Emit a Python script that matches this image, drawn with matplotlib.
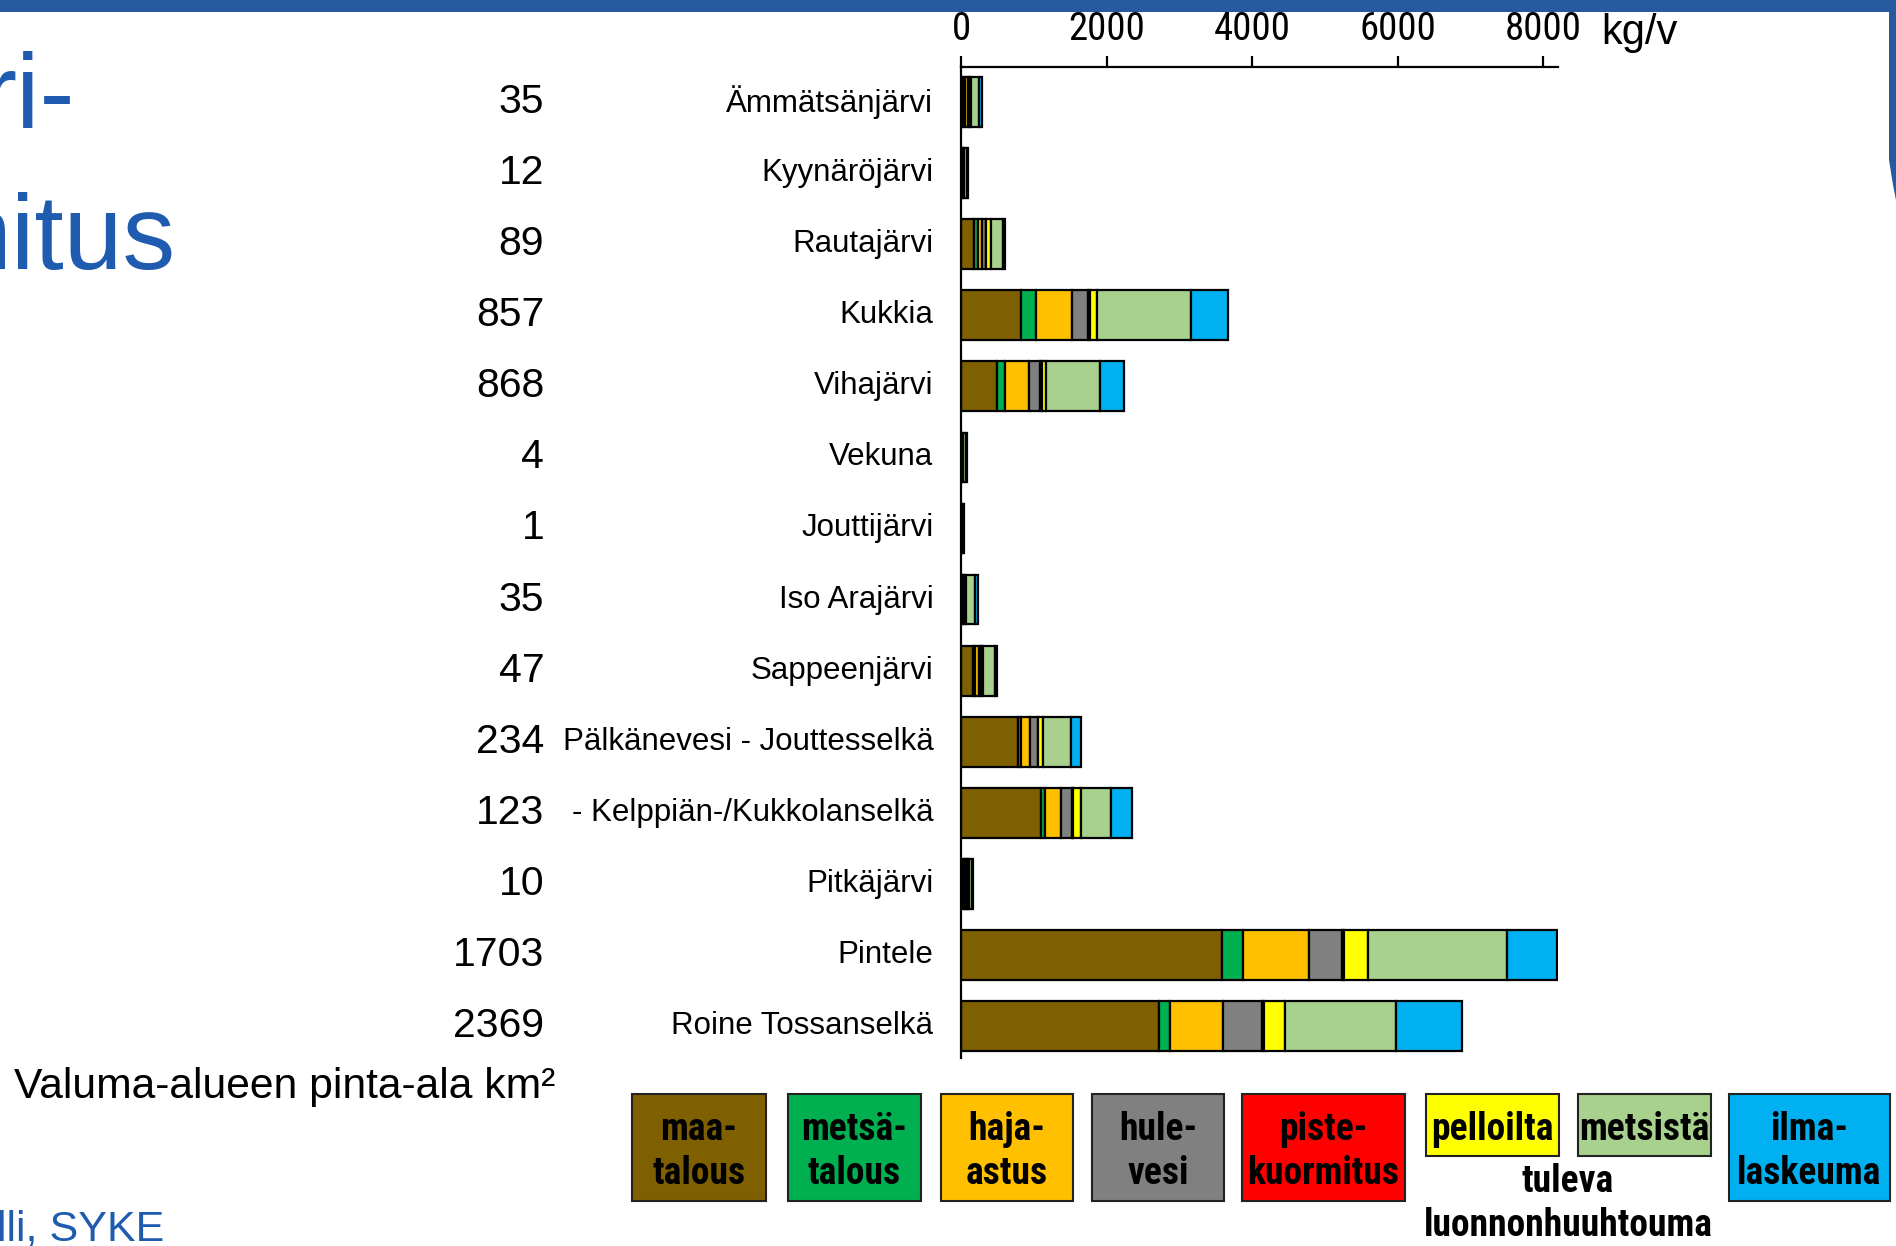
import matplotlib
matplotlib.use("Agg")
import matplotlib.pyplot as plt
from matplotlib.patches import Rectangle, Polygon

# phosphorus load by source, kg/v
lakes = ["Ämmätsänjärvi", "Kyynäröjärvi", "Rautajärvi", "Kukkia", "Vihajärvi",
         "Vekuna", "Jouttijärvi", "Iso Arajärvi", "Sappeenjärvi",
         "Pälkänevesi - Jouttesselkä", "- Kelppiän-/Kukkolanselkä",
         "Pitkäjärvi", "Pintele", "Roine Tossanselkä"]
areas = [35, 12, 89, 857, 868, 4, 1, 35, 47, 234, 123, 10, 1703, 2369]

maatalous = [30, 10, 180, 815, 495, 5, 2, 10, 160, 775, 1090, 25, 3580, 2725]
metsatalous = [20, 5, 45, 215, 100, 5, 2, 15, 35, 50, 55, 20, 300, 140]
haja_astus = [40, 15, 65, 495, 335, 10, 5, 20, 45, 115, 220, 25, 905, 730]
hulevesi = [20, 5, 50, 215, 155, 5, 2, 10, 25, 110, 160, 15, 445, 545]
piste = [0, 0, 0, 30, 20, 0, 0, 0, 0, 5, 10, 5, 30, 25]
pelloilta = [30, 5, 70, 90, 55, 5, 2, 15, 35, 70, 115, 20, 340, 285]
metsista = [110, 40, 165, 1300, 750, 35, 15, 125, 160, 390, 410, 35, 1910, 1535]
ilma = [35, 15, 30, 505, 325, 10, 5, 35, 30, 125, 290, 15, 685, 900]

series = [maatalous, metsatalous, haja_astus, hulevesi, piste, pelloilta, metsista, ilma]
colors = ["#7F6000", "#00B050", "#FFC000", "#808080", "#FF0000", "#FFFF00", "#A9D18E", "#00B0F0"]
legend_labels = ["maa-\ntalous", "metsä-\ntalous", "haja-\nastus", "hule-\nvesi",
                 "piste-\nkuormitus", "pelloilta", "metsistä", "ilma-\nlaskeuma"]
xticks = [0, 2000, 4000, 6000, 8000]

W, H = 1896, 1246
BLUE = "#1F5CB0"
plain = ["Liberation Sans", "DejaVu Sans"]
narrow = ["Roboto Condensed", "PT Sans Narrow", "Liberation Sans"]

fig = plt.figure(figsize=(W / 100, H / 100), dpi=100)
fig.patch.set_facecolor("white")

# pixel-space layer for slide decorations
ov = fig.add_axes([0, 0, 1, 1])
ov.set_xlim(0, W)
ov.set_ylim(H, 0)
ov.axis("off")
ov.patch.set_visible(False)

ov.add_patch(Rectangle((0, 0), W, 12, color="#2759A0", lw=0))
ov.add_patch(Polygon([(1889, 12), (W, 12), (W, 200), (1893, 185), (1889, 160)],
                     closed=True, color="#2759A0", lw=0))

ov.text(76, 128, "ri-", ha="right", va="baseline", fontsize=76, color=BLUE, family=plain)
ov.text(176, 269, "mitus", ha="right", va="baseline", fontsize=76, color=BLUE, family=plain)
ov.text(14, 1087, "Valuma-alueen pinta-ala km²", ha="left", va="center",
        fontsize=30.7, color="black", family=plain)
ov.text(-3, 1230, "lli, SYKE", ha="left", va="center", fontsize=31, color=BLUE, family=plain)
ov.text(1601, 33, "kg/v", ha="left", va="center", fontsize=30, color="black", family=plain)

# legend boxes
boxes = [(632, 766, 1201), (788, 921, 1201), (941, 1073, 1201), (1092, 1224, 1201),
         (1242, 1405, 1201), (1426, 1559, 1156), (1578, 1711, 1156), (1729, 1890, 1201)]
for (x0, x1, y1), c, lab in zip(boxes, colors, legend_labels):
    y0 = 1094
    ov.add_patch(Rectangle((x0, y0), x1 - x0, y1 - y0, facecolor=c,
                           edgecolor="#222222", lw=1.5))
    lines = lab.split("\n")
    for k, line in enumerate(lines):
        ov.text((x0 + x1) / 2, 1129 + 44 * k, line, ha="center", va="center", fontsize=27,
                fontweight="bold", family=narrow)
ov.text(1568, 1181, "tuleva", ha="center", va="center", fontsize=27,
        fontweight="bold", family=narrow)
ov.text(1568, 1225, "luonnonhuuhtouma", ha="center", va="center", fontsize=27,
        fontweight="bold", family=narrow)

# stacked bar chart
ax = fig.add_axes([961.3 / W, 1 - 1058 / H, 596.2 / W, (1058 - 66.5) / H])
ax.patch.set_visible(False)
ypos = list(range(len(lakes)))
left = [0] * len(lakes)
for vals, c in zip(series, colors):
    ax.barh(ypos, vals, left=left, height=0.7, color=c, edgecolor="black", linewidth=1.6)
    left = [a + b for a, b in zip(left, vals)]

ax.set_xlim(0, 8200)
ax.set_ylim(13.45, -0.5)
for s in ["right", "bottom"]:
    ax.spines[s].set_visible(False)
ax.spines["top"].set_linewidth(1.6)
ax.spines["left"].set_linewidth(1.6)
ax.xaxis.tick_top()
ax.set_xticks(xticks)
ax.set_xticklabels([str(t) for t in xticks], family=narrow, fontsize=28)
ax.tick_params(axis="x", direction="out", length=8, width=1.6, pad=5)
ax.set_yticks([])

for i, (name, a) in enumerate(zip(lakes, areas)):
    ax.text(-28 / 0.07271, i, name, ha="right", va="center", fontsize=22.5,
            family=plain, clip_on=False)
    ax.text(-417 / 0.07271, i, str(a), ha="right", va="center", fontsize=29.5,
            family=plain, clip_on=False)

fig.savefig("out.png", dpi=100)
